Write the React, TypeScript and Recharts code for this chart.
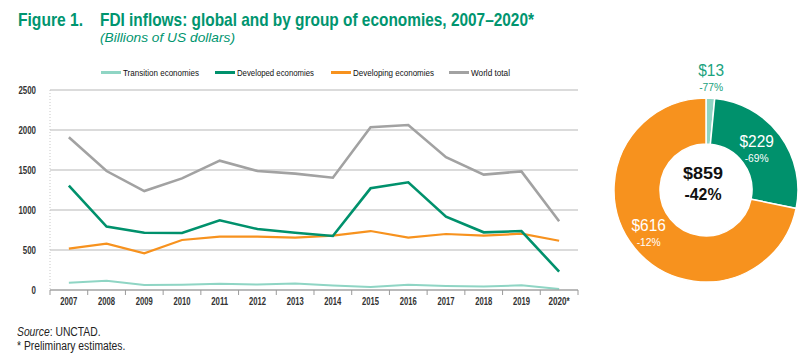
import React from "react";
import { LineChart, Line, XAxis, YAxis, CartesianGrid, PieChart, Pie, Cell } from "recharts";

const years = ["2007", "2008", "2009", "2010", "2011", "2012", "2013", "2014", "2015", "2016", "2017", "2018", "2019", "2020*"];
const transition = [90, 115, 62, 65, 78, 68, 82, 57, 38, 65, 50, 45, 58, 13];
const developed = [1305, 792, 716, 712, 871, 762, 715, 675, 1271, 1346, 917, 721, 737, 229];
const developing = [517, 579, 458, 625, 667, 667, 654, 679, 737, 654, 700, 679, 704, 616];
const world = [1910, 1487, 1237, 1395, 1617, 1487, 1455, 1404, 2035, 2062, 1660, 1442, 1483, 859];
const yTicks = [0, 500, 1000, 1500, 2000, 2500];

const pieNames = ["Transition economies", "Developed economies", "Developing economies"];
const pieValues = [13, 229, 616];
const pieChanges = ["-77%", "-69%", "-12%"];
const totalLabel = "$859";
const totalChange = "-42%";

const C_TRANS = "#8fd5c4";
const C_DEVD = "#00916c";
const C_DEVG = "#f7921e";
const C_WORLD = "#a2a2a2";
const C_TITLE = "#00956f";

const FONT = "'Liberation Sans', Arial, sans-serif";

const data = years.map((y, i) => ({
  year: y,
  transition: transition[i],
  developed: developed[i],
  developing: developing[i],
  world: world[i],
}));

const pieData = pieNames.map((n, i) => ({ name: n, value: pieValues[i], change: pieChanges[i] }));
const pieColors = [C_TRANS, C_DEVD, C_DEVG];

// legend entries, with where each sits in the figure
const legendItems = [
  { name: "Transition economies", color: C_TRANS, x: 101, w: 76 },
  { name: "Developed economies", color: C_DEVD, x: 215, w: 77 },
  { name: "Developing economies", color: C_DEVG, x: 331, w: 81 },
  { name: "World total", color: C_WORLD, x: 449, w: 39 },
];

const HALF = 18.86;

function XTick(props: any) {
  const { x, y, payload, index, visibleTicksCount } = props;
  const s = String(payload.value);
  return (
    <g>
      <line x1={x - HALF} x2={x - HALF} y1={y} y2={y + 5} stroke="#9a9a9a" strokeWidth={1} />
      {index === visibleTicksCount - 1 && (
        <line x1={x + HALF} x2={x + HALF} y1={y} y2={y + 5} stroke="#9a9a9a" strokeWidth={1} />
      )}
      <text x={x} y={y + 15} textAnchor="middle" fontSize={10} fontWeight={700} fill="#333" fontFamily={FONT} textLength={s.length * 4.25} lengthAdjust="spacingAndGlyphs">
        {s}
      </text>
    </g>
  );
}

function YTick(props: any) {
  const { x, y, payload } = props;
  const s = String(payload.value);
  return (
    <text x={x} y={y + 3.5} textAnchor="end" fontSize={10} fontWeight={700} fill="#333" fontFamily={FONT} textLength={s.length * 4.4} lengthAdjust="spacingAndGlyphs">
      {s}
    </text>
  );
}

const RAD = Math.PI / 180;
const labelRadius = [108, 63, 74];

function renderPieLabel(props: any) {
  const { cx, cy, midAngle, index, payload } = props;
  const r = labelRadius[index];
  const x = cx + r * Math.cos(-midAngle * RAD);
  const y = cy + r * Math.sin(-midAngle * RAD);
  const col = index === 0 ? "#1aa37e" : "#ffffff";
  const v = "$" + payload.value;
  return (
    <g>
      <text x={x} y={y - 6} textAnchor="middle" fontSize={17} fill={col} fontFamily={FONT} textLength={v.length * 8.6} lengthAdjust="spacingAndGlyphs">
        {v}
      </text>
      <text x={x} y={y + 9} textAnchor="middle" fontSize={11} fill={col} fontFamily={FONT} textLength={24} lengthAdjust="spacingAndGlyphs">
        {payload.change}
      </text>
    </g>
  );
}

const noteStyle: React.CSSProperties = {
  position: "absolute",
  left: 17,
  fontFamily: FONT,
  fontSize: 12,
  lineHeight: "14px",
  color: "#222",
  whiteSpace: "nowrap",
  transform: "scaleX(0.86)",
  transformOrigin: "left top",
};

export default function App() {
  return (
    <div style={{ position: "absolute", left: 0, top: 0, width: 800, height: 356, background: "#fff", overflow: "hidden" }}>
      <svg width={800} height={356} style={{ position: "absolute", left: 0, top: 0 }} fontFamily={FONT}>
        <text x={18} y={26} fontSize={18.5} fontWeight={700} fill={C_TITLE} textLength={65} lengthAdjust="spacingAndGlyphs">
          Figure 1.
        </text>
        <text x={100} y={26} fontSize={18.5} fontWeight={700} fill={C_TITLE} textLength={434} lengthAdjust="spacingAndGlyphs">
          FDI inflows: global and by group of economies, 2007–2020*
        </text>
        <text x={100} y={42} fontSize={13.5} fontStyle="italic" fill={C_TITLE} textLength={135} lengthAdjust="spacingAndGlyphs">
          (Billions of US dollars)
        </text>
        {legendItems.map((it) => (
          <g key={it.name}>
            <line x1={it.x} x2={it.x + 20} y1={72.5} y2={72.5} stroke={it.color} strokeWidth={3} />
            <text x={it.x + 22} y={75.7} fontSize={9.5} fill="#111" textLength={it.w} lengthAdjust="spacingAndGlyphs">
              {it.name}
            </text>
          </g>
        ))}
      </svg>

      <div style={{ ...noteStyle, top: 325 }}>
        <i>Source</i>: UNCTAD.
      </div>
      <div style={{ ...noteStyle, top: 339 }}>* Preliminary estimates.</div>

      <div style={{ position: "absolute", left: 0, top: 55 }}>
        <LineChart width={600} height={260} data={data} margin={{ top: 35, right: 22, bottom: 0, left: 0 }}>
          <CartesianGrid vertical={false} stroke="#b8b8b8" strokeWidth={1.2} />
          <XAxis
            dataKey="year"
            scale="point"
            padding={{ left: HALF, right: HALF }}
            height={25}
            tickSize={0}
            tickMargin={0}
            tickLine={false}
            axisLine={{ stroke: "#9a9a9a", strokeWidth: 1.2 }}
            tick={<XTick />}
            interval={0}
          />
          <YAxis
            width={50}
            domain={[0, 2500]}
            ticks={yTicks}
            tickLine={false}
            axisLine={{ stroke: "#c8c8c8", strokeDasharray: "1 2" }}
            tickMargin={8}
            tick={<YTick />}
          />
          <Line dataKey="transition" stroke={C_TRANS} strokeWidth={2} dot={false} isAnimationActive={false} />
          <Line dataKey="developing" stroke={C_DEVG} strokeWidth={2.2} dot={false} isAnimationActive={false} />
          <Line dataKey="developed" stroke={C_DEVD} strokeWidth={2.6} dot={false} isAnimationActive={false} />
          <Line dataKey="world" stroke={C_WORLD} strokeWidth={2.6} dot={false} isAnimationActive={false} />
        </LineChart>
      </div>

      <div style={{ position: "absolute", left: 600, top: 0 }}>
        <PieChart width={200} height={300}>
          <Pie
            data={pieData}
            dataKey="value"
            cx={101}
            cy={185}
            innerRadius={46}
            outerRadius={92}
            startAngle={90}
            endAngle={-270}
            stroke="#fff"
            strokeWidth={1.5}
            label={renderPieLabel}
            labelLine={false}
            isAnimationActive={false}
          >
            {pieData.map((d, i) => (
              <Cell key={d.name} fill={pieColors[i]} />
            ))}
          </Pie>
          <text x={103} y={179} textAnchor="middle" fontSize={16} fontWeight={700} fill="#111" fontFamily={FONT} textLength={40} lengthAdjust="spacingAndGlyphs">
            {totalLabel}
          </text>
          <text x={103} y={200} textAnchor="middle" fontSize={16} fontWeight={700} fill="#111" fontFamily={FONT} textLength={37} lengthAdjust="spacingAndGlyphs">
            {totalChange}
          </text>
        </PieChart>
      </div>
    </div>
  );
}
